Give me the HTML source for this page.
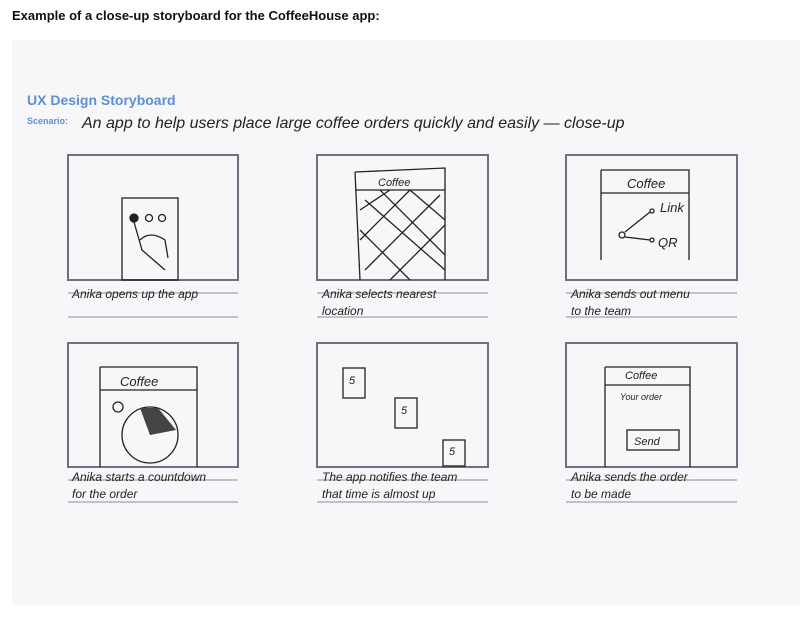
<!DOCTYPE html>
<html><head><style>
body{margin:0;width:810px;height:622px;background:#fff;font-family:"Liberation Sans",sans-serif;overflow:hidden}
</style></head><body>
<svg width="810" height="622" xmlns="http://www.w3.org/2000/svg" font-family="Liberation Sans, sans-serif">
<text x="12" y="20" font-size="13" font-weight="bold" fill="#111">Example of a close-up storyboard for the CoffeeHouse app:</text>
<rect x="12" y="40" width="788" height="565" fill="#f7f7f9"/>
<text x="27" y="105" font-size="14" font-weight="bold" fill="#5b8fd6">UX Design Storyboard</text>
<text x="27" y="124" font-size="9" font-weight="bold" fill="#5b8fd6">Scenario:</text>
<text x="82" y="128" font-size="16" font-style="italic" fill="#222">An app to help users place large coffee orders quickly and easily — close-up</text>
<g fill="none" stroke="#6b7380" stroke-width="2">
<rect x="68" y="155" width="170" height="125"/><rect x="317" y="155" width="171" height="125"/><rect x="566" y="155" width="171" height="125"/>
<rect x="68" y="343" width="170" height="124"/><rect x="317" y="343" width="171" height="124"/><rect x="566" y="343" width="171" height="124"/>
</g>
<g stroke="#8a909a" stroke-width="1">
<line x1="68" y1="293" x2="238" y2="293"/><line x1="68" y1="317" x2="238" y2="317"/>
<line x1="317" y1="293" x2="488" y2="293"/><line x1="317" y1="317" x2="488" y2="317"/>
<line x1="566" y1="293" x2="737" y2="293"/><line x1="566" y1="317" x2="737" y2="317"/>
<line x1="68" y1="480" x2="238" y2="480"/><line x1="68" y1="502" x2="238" y2="502"/>
<line x1="317" y1="480" x2="488" y2="480"/><line x1="317" y1="502" x2="488" y2="502"/>
<line x1="566" y1="480" x2="737" y2="480"/><line x1="566" y1="502" x2="737" y2="502"/>
</g>
<g font-size="12" font-style="italic" fill="#222">
<text x="72" y="298">Anika opens up the app</text>
<text x="322" y="298">Anika selects nearest</text><text x="322" y="315">location</text>
<text x="571" y="298">Anika sends out menu</text><text x="571" y="315">to the team</text>
<text x="72" y="481">Anika starts a countdown</text><text x="72" y="498">for the order</text>
<text x="322" y="481">The app notifies the team</text><text x="322" y="498">that time is almost up</text>
<text x="571" y="481">Anika sends the order</text><text x="571" y="498">to be made</text>
</g>
<g fill="none" stroke="#222" stroke-width="1.3">
<!-- panel1 -->
<rect x="122" y="198" width="56" height="82"/><circle cx="134" cy="218" r="4" fill="#222"/><circle cx="149" cy="218" r="3.5"/><circle cx="162" cy="218" r="3.5"/>
<path d="M134 222 L142 250 L165 270 M140 240 Q150 230 165 240 L168 258"/>
<!-- panel2 -->
<path d="M355 172 L445 168 L445 280 M355 172 L360 280 M355 190 L445 190"/>
<path d="M360 210 L390 190 M360 240 L410 190 M365 270 L440 195 M390 280 L445 225 M365 200 L445 270 M380 190 L445 255 M410 190 L445 220 M360 230 L410 280"/>
<!-- panel3 -->
<path d="M601 170 L689 170 L689 260 M601 170 L601 260 M601 193 L689 193"/>
<circle cx="622" cy="235" r="3"/><path d="M625 232 L650 212 M625 237 L650 240"/><circle cx="652" cy="211" r="2"/><circle cx="652" cy="240" r="2"/>
<!-- panel4 -->
<path d="M100 367 L197 367 L197 467 M100 367 L100 467 M100 390 L197 390"/>
<circle cx="150" cy="435" r="28"/><circle cx="118" cy="407" r="5"/>
<!-- panel5 -->
<rect x="343" y="368" width="22" height="30"/><rect x="395" y="398" width="22" height="30"/><rect x="443" y="440" width="22" height="26"/>
<!-- panel6 -->
<path d="M605 367 L690 367 L690 467 M605 367 L605 467 M605 385 L690 385"/>
<rect x="627" y="430" width="52" height="20"/>
</g>
<path d="M150 435 L140 408 L158 408 L176 430 Z" fill="#444"/>
<g font-size="11" font-style="italic" fill="#222">
<text x="378" y="186">Coffee</text><text x="627" y="188" font-size="13">Coffee</text>
<text x="660" y="212" font-size="13">Link</text><text x="658" y="247" font-size="13">QR</text>
<text x="120" y="386" font-size="13">Coffee</text><text x="625" y="379">Coffee</text>
<text x="620" y="400" font-size="9">Your order</text><text x="634" y="445">Send</text>
<text x="349" y="384">5</text><text x="401" y="414">5</text><text x="449" y="455">5</text>
</g>
</svg>
</body></html>
